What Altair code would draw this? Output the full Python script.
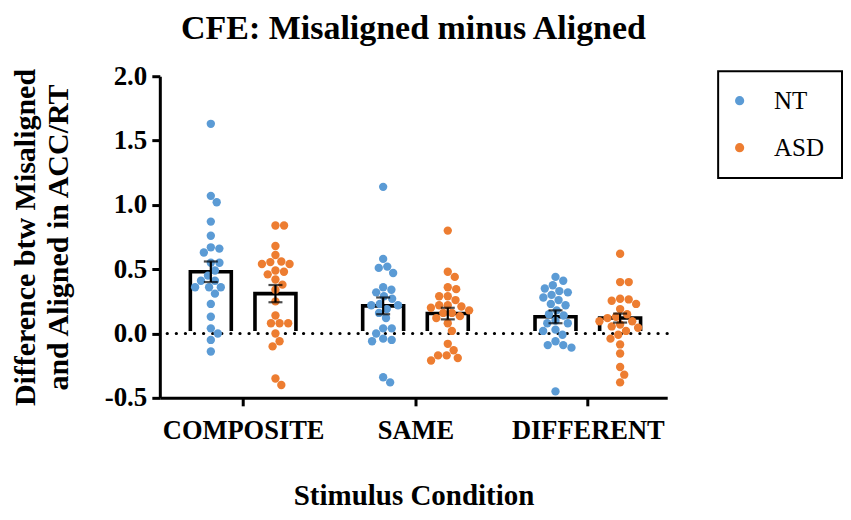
import json
import math
import altair as alt
import pandas as pd

# ---------------- data ----------------
conditions = ["COMPOSITE", "SAME", "DIFFERENT"]
groups = ["NT", "ASD"]
colors = ["#5B9BD5", "#ED7D31"]

nt_composite = [1.63, 1.07, 1.02, 0.87, 0.76, 0.67, 0.66, 0.63, 0.55, 0.55, 0.49, 0.45,
                0.41, 0.41, 0.36, 0.36, 0.36, 0.31, 0.23, 0.13, 0.04, 0.00, -0.05, -0.14]
asd_composite = [0.84, 0.84, 0.68, 0.61, 0.56, 0.555, 0.54, 0.54, 0.49, 0.48, 0.46, 0.42,
                 0.38, 0.34, 0.25, 0.14, 0.08, 0.08, 0.08, 0.00, -0.06, -0.10, -0.35, -0.40]
nt_same = [1.14, 0.58, 0.52, 0.51, 0.47, 0.36, 0.34, 0.32, 0.29, 0.27, 0.23, 0.22,
           0.22, 0.19, 0.16, 0.12, 0.04, 0.04, 0.00, -0.04, -0.05, -0.06, -0.34, -0.38]
asd_same = [0.80, 0.48, 0.44, 0.36, 0.345, 0.29, 0.29, 0.26, 0.22, 0.22, 0.21, 0.20, 0.18,
            0.16, 0.16, 0.135, 0.12, 0.08, 0.02, -0.08, -0.13, -0.17, -0.17, -0.19, -0.21]
nt_different = [0.44, 0.41, 0.375, 0.35, 0.33, 0.32, 0.30, 0.28, 0.26, 0.23, 0.22, 0.18, 0.15,
                 0.14, 0.10, 0.08, 0.08, 0.03, 0.02, -0.01, -0.06, -0.09, -0.09, -0.11, -0.45]
asd_different = [0.62, 0.40, 0.40, 0.27, 0.265, 0.255, 0.23, 0.19, 0.15, 0.13, 0.12, 0.095,
                 0.095, 0.07, 0.055, 0.045, 0.02, -0.01, -0.04, -0.085, -0.155, -0.26, -0.32, -0.38]

nt_mean = [0.48, 0.215, 0.13]
asd_mean = [0.31, 0.155, 0.12]
nt_sem = [0.08, 0.065, 0.05]
asd_sem = [0.067, 0.045, 0.035]

y_ticks = [-0.5, 0.0, 0.5, 1.0, 1.5, 2.0]

# ---------------- layout helpers ----------------
W, H = 508, 322
X_DOMAIN = [-0.4545, 2.4318]
Y_DOMAIN = [-0.5, 2.0]
px_x = W / (X_DOMAIN[1] - X_DOMAIN[0])
px_y = H / (Y_DOMAIN[1] - Y_DOMAIN[0])
GROUP_OFF = {"NT": -0.1875, "ASD": 0.1875}
DOT_D = 8.8


def swarm(vals):
    order = sorted(range(len(vals)), key=lambda i: -vals[i])
    placed, out = [], [0.0] * len(vals)
    for i in order:
        y = vals[i] * px_y
        cands = [0.0]
        for (px, py) in placed:
            dy = y - py
            if abs(dy) < DOT_D:
                dx = math.sqrt(DOT_D ** 2 - dy ** 2)
                cands += [px + dx, px - dx]
        cands.sort(key=abs)
        chosen = 0.0
        for c in cands:
            if all((c - px) ** 2 + (y - py) ** 2 >= DOT_D ** 2 - 1e-6 for px, py in placed):
                chosen = c
                break
        placed.append((chosen, y))
        out[i] = chosen
    return out


series = {
    ("COMPOSITE", "NT"): nt_composite, ("COMPOSITE", "ASD"): asd_composite,
    ("SAME", "NT"): nt_same, ("SAME", "ASD"): asd_same,
    ("DIFFERENT", "NT"): nt_different, ("DIFFERENT", "ASD"): asd_different,
}
rows = []
for (cond, grp), vals in series.items():
    offs = swarm(vals)
    ci = conditions.index(cond)
    for v, o in zip(vals, offs):
        rows.append({"cond": cond, "group": grp, "value": v,
                     "x": ci + GROUP_OFF[grp] + o / px_x})
points = pd.DataFrame(rows)

brow = []
for ci, cond in enumerate(conditions):
    for grp, m, s in (("NT", nt_mean[ci], nt_sem[ci]), ("ASD", asd_mean[ci], asd_sem[ci])):
        brow.append({"cond": cond, "group": grp, "x": ci + GROUP_OFF[grp],
                     "mean": m, "lo": m - s, "hi": m + s})
bars = pd.DataFrame(brow)

FONT = "Liberation Serif"
label_expr = json.dumps(conditions) + "[datum.value]"

x_scale = alt.Scale(domain=X_DOMAIN, nice=False, zero=False)
y_scale = alt.Scale(domain=Y_DOMAIN, nice=False, zero=False)
x_axis = alt.Axis(values=[0, 1, 2], labelExpr=label_expr, title="Stimulus Condition",
                  titleFontSize=29, titlePadding=37, labelFontSize=26.5, labelPadding=12,
                  zindex=1)
y_axis = alt.Axis(values=y_ticks, labelExpr="replace(format(datum.value, '.1f'), '\u2212', '-')",
                  title=["Difference btw Misaligned", "and Aligned in ACC/RT"],
                  titleFontSize=30, titleLineHeight=33, titlePadding=31,
                  labelFontSize=27, labelPadding=5, zindex=1)


def X(field):
    return alt.X(field, type="quantitative", scale=x_scale, axis=x_axis)


def Y(field):
    return alt.Y(field, type="quantitative", scale=y_scale, axis=y_axis)


zero_df = pd.DataFrame({"v": [0.0]})

bar_layer = alt.Chart(bars).mark_bar(size=41, fill="white", stroke="black",
                                     strokeWidth=3.6).encode(x=X("x"), y=Y("mean"))
white_zero = alt.Chart(zero_df).mark_rule(color="white", strokeWidth=5).encode(y=Y("v"))
dotted_zero = alt.Chart(zero_df).mark_rule(color="black", strokeWidth=3.2, strokeCap="round",
                                           strokeDash=[0.1, 9]).encode(y=Y("v"))
point_layer = alt.Chart(points).mark_circle(size=70, opacity=1).encode(
    x=X("x"), y=Y("value"),
    color=alt.Color("group:N", scale=alt.Scale(domain=groups, range=colors),
                    legend=alt.Legend(title=None, orient="none", legendX=559, legendY=-5,
                                      padding=17, strokeColor="black", symbolType="circle",
                                      symbolSize=85, symbolStrokeWidth=0, symbolOffset=-8,
                                      labelFont=FONT, labelFontSize=25, labelColor="black",
                                      labelOffset=22, rowPadding=21)))
err_rule = alt.Chart(bars).mark_rule(color="black", strokeWidth=2.2).encode(
    x=X("x"), y=Y("lo"), y2="hi")
cap_hi = alt.Chart(bars).mark_tick(orient="horizontal", size=14, thickness=2.2,
                                   color="black").encode(x=X("x"), y=Y("hi"))
cap_lo = alt.Chart(bars).mark_tick(orient="horizontal", size=14, thickness=2.2,
                                   color="black").encode(x=X("x"), y=Y("lo"))

chart = alt.layer(bar_layer, white_zero, dotted_zero, point_layer, err_rule, cap_hi, cap_lo).properties(
    width=W, height=H,
    title=alt.TitleParams("CFE: Misaligned minus Aligned", font=FONT, fontSize=34,
                          fontWeight="bold", color="black", offset=16, anchor="middle"),
    autosize=alt.AutoSizeParams(type="none"),
    padding={"left": 152, "top": 68, "right": 176, "bottom": 114},
).configure_view(stroke=None).configure_axis(
    domainColor="black", domainWidth=3, tickColor="black", tickWidth=3, tickSize=8,
    labelFont=FONT, labelFontWeight="bold", labelColor="black",
    titleFont=FONT, titleFontWeight="bold", titleColor="black", grid=False,
).configure_legend(strokeWidth=2)

chart.save("out.html", embed_options={"renderer": "svg", "actions": False})
